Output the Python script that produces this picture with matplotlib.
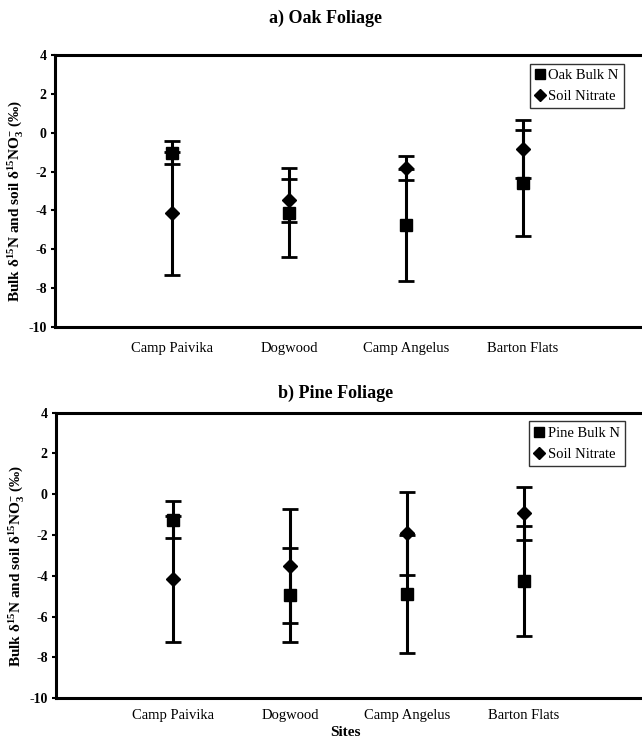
import matplotlib
matplotlib.use("Agg")
import matplotlib.pyplot as plt
import numpy as np

sites = ["Camp Paivika", "Dogwood", "Camp Angelus", "Barton Flats"]

oak_bulk = [-1.03, -4.12, -4.75, -2.57]
oak_bulk_err = [0.6, 2.3, 2.9, 2.73]
oak_soil = [-4.15, -3.48, -1.8, -0.85]
oak_soil_err = [3.15, 1.1, 0.62, 1.49]

pine_bulk = [-1.24, -4.94, -4.89, -4.25]
pine_bulk_err = [0.9, 2.3, 2.9, 2.7]
pine_soil = [-4.15, -3.5, -1.91, -0.93]
pine_soil_err = [3.1, 2.8, 2.04, 1.3]

yticks = [4, 2, 0, -2, -4, -6, -8, -10]

plt.rcParams['font.family'] = ['Liberation Serif', 'DejaVu Serif']
plt.rcParams['mathtext.fontset'] = 'custom'
plt.rcParams['mathtext.rm'] = 'Liberation Serif:bold'
plt.rcParams['mathtext.bf'] = 'Liberation Serif:bold'
plt.rcParams['mathtext.it'] = 'Liberation Serif:bold'

fig = plt.figure(figsize=(6.42, 7.42), dpi=100)
ax1 = fig.add_axes([0.0857, 0.5593, 0.911, 0.3666])
ax2 = fig.add_axes([0.0872, 0.0589, 0.911, 0.385])

ylab = "Bulk δ$^{15}$N and soil δ$^{15}$NO$_3^{-}$ (‰)"

def panel(ax, bulk, bulk_err, soil, soil_err, bulk_label, xpad):
    x = np.arange(1, len(sites) + 1)
    ax.errorbar(x, soil, yerr=soil_err, fmt='D', color='black', ms=7,
                elinewidth=2.2, capsize=6, capthick=2.0, label='Soil Nitrate', zorder=3)
    ax.errorbar(x, bulk, yerr=bulk_err, fmt='s', color='black', ms=8,
                elinewidth=2.2, capsize=6, capthick=2.0, label=bulk_label, zorder=4)
    ax.set_xlim(0, 5)
    ax.set_ylim(-10, 4)
    ax.set_yticks(yticks)
    ax.set_yticklabels([str(t) for t in yticks], fontsize=10, fontweight='bold')
    ax.set_xticks(x)
    ax.set_xticklabels(sites, fontsize=10.5)
    ax.tick_params(axis='x', length=0, pad=xpad)
    ax.tick_params(axis='y', direction='out', length=3, width=1.5, pad=3)
    for s in ['left', 'bottom', 'top']:
        ax.spines[s].set_linewidth(2.2)
    ax.spines['right'].set_visible(False)
    ax.set_ylabel(ylab, fontsize=11, fontweight='bold')
    ax.yaxis.set_label_coords(-0.052, 0.465)
    handles, labels = ax.get_legend_handles_labels()
    order = [1, 0]
    leg = ax.legend([handles[i][0] for i in order], [labels[i] for i in order],
                    loc='upper right', bbox_to_anchor=(0.985, 0.995), fontsize=10.5,
                    frameon=True, fancybox=False, edgecolor='black',
                    handlelength=0.6, handletextpad=0.3, borderpad=0.35,
                    labelspacing=0.55, markerscale=0.9)
    leg.get_frame().set_linewidth(1.0)

panel(ax1, oak_bulk, oak_bulk_err, oak_soil, oak_soil_err, 'Oak Bulk N', 11)
panel(ax2, pine_bulk, pine_bulk_err, pine_soil, pine_soil_err, 'Pine Bulk N', 8)

fig.text(326 / 642, 1 - 18 / 742, 'a) Oak Foliage', fontsize=13, fontweight='bold',
         ha='center', va='center')
fig.text(336 / 642, 1 - 393 / 742, 'b) Pine Foliage', fontsize=13, fontweight='bold',
         ha='center', va='center')
fig.text(345 / 642, 1 - 733 / 742, 'Sites', fontsize=11, fontweight='bold',
         ha='center', va='center')

fig.savefig('out.png', dpi=100, facecolor='white')
